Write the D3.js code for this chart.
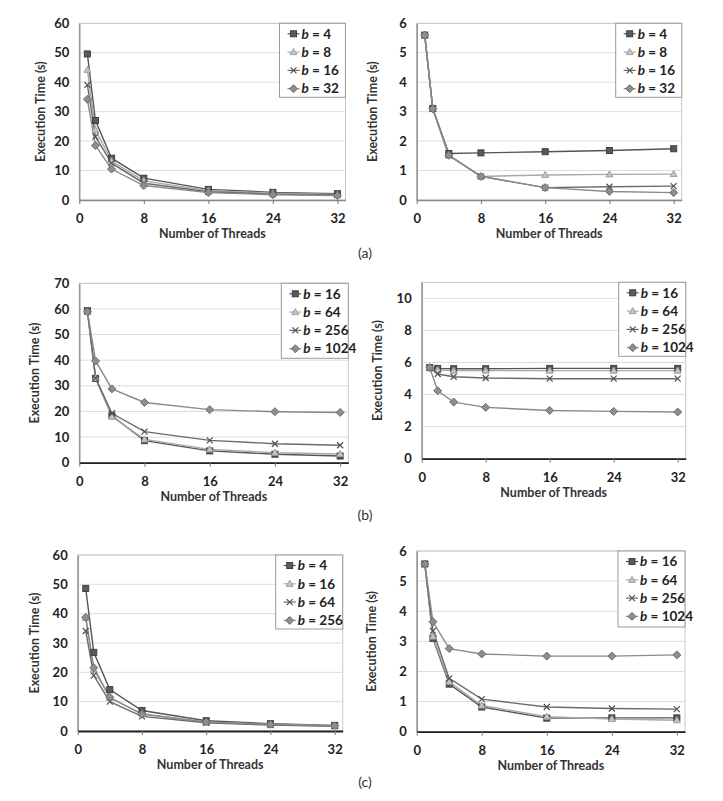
<!DOCTYPE html>
<html><head><meta charset="utf-8">
<script src="https://cdn.jsdelivr.net/npm/d3@7"></script>
<style>body{margin:0;background:#fff} text{font-family:Lato,"Liberation Sans",sans-serif}</style>
</head><body><svg id="chart" width="723" height="801"></svg>
<script>
// ---- data ----
const threads = [1, 2, 4, 8, 16, 24, 32];
const xTicks = [0, 8, 16, 24, 32];

// (a) left
const aLeftLabels = ["4", "8", "16", "32"];
const aLeftB4  = [49.6, 27.0, 14.2, 7.4, 3.6, 2.6, 2.15];
const aLeftB8  = [44.2, 23.8, 13.2, 6.5, 3.2, 2.3, 1.9];
const aLeftB16 = [39.1, 21.5, 12.5, 5.7, 2.8, 2.0, 1.7];
const aLeftB32 = [34.2, 18.5, 10.5, 4.9, 2.5, 1.8, 1.5];
const aLeftYTicks = [0, 10, 20, 30, 40, 50, 60];

// (a) right
const aRightLabels = ["4", "8", "16", "32"];
const aRightB4  = [5.6, 3.11, 1.58, 1.6, 1.64, 1.68, 1.74];
const aRightB8  = [5.6, 3.1, 1.52, 0.8, 0.85, 0.87, 0.88];
const aRightB16 = [5.6, 3.1, 1.52, 0.8, 0.42, 0.45, 0.47];
const aRightB32 = [5.6, 3.1, 1.52, 0.8, 0.42, 0.29, 0.25];
const aRightYTicks = [0, 1, 2, 3, 4, 5, 6];

// (b) left
const bLeftLabels = ["16", "64", "256", "1024"];
const bLeftB16   = [59.3, 32.9, 18.3, 8.6, 4.6, 3.3, 2.6];
const bLeftB64   = [59.0, 33.0, 18.0, 9.1, 5.2, 3.9, 3.4];
const bLeftB256  = [59.0, 33.0, 19.3, 12.1, 8.7, 7.4, 6.8];
const bLeftB1024 = [58.9, 39.7, 28.8, 23.5, 20.7, 19.9, 19.6];
const bLeftYTicks = [0, 10, 20, 30, 40, 50, 60, 70];

// (b) right
const bRightLabels = ["16", "64", "256", "1024"];
const bRightB16   = [5.68, 5.63, 5.61, 5.61, 5.63, 5.63, 5.63];
const bRightB64   = [5.68, 5.53, 5.49, 5.49, 5.49, 5.49, 5.49];
const bRightB256  = [5.68, 5.28, 5.11, 5.03, 4.99, 4.99, 4.99];
const bRightB1024 = [5.68, 4.24, 3.53, 3.2, 3.01, 2.95, 2.91];
const bRightYTicks = [0, 2, 4, 6, 8, 10];

// (c) left
const cLeftLabels = ["4", "16", "64", "256"];
const cLeftB4   = [48.6, 26.8, 14.1, 7.0, 3.5, 2.5, 1.9];
const cLeftB16  = [38.5, 21.0, 11.3, 5.9, 3.0, 2.2, 1.7];
const cLeftB64  = [34.1, 18.9, 10.0, 5.0, 2.8, 2.0, 1.6];
const cLeftB256 = [38.75, 21.6, 11.5, 5.7, 3.1, 2.3, 1.8];
const cLeftYTicks = [0, 10, 20, 30, 40, 50, 60];

// (c) right
const cRightLabels = ["16", "64", "256", "1024"];
const cRightB16   = [5.57, 3.1, 1.58, 0.82, 0.45, 0.46, 0.46];
const cRightB64   = [5.57, 3.16, 1.66, 0.87, 0.5, 0.42, 0.38];
const cRightB256  = [5.57, 3.35, 1.77, 1.08, 0.82, 0.77, 0.75];
const cRightB1024 = [5.57, 3.65, 2.76, 2.58, 2.51, 2.51, 2.55];
const cRightYTicks = [0, 1, 2, 3, 4, 5, 6];

const subLabels = ["(a)", "(b)", "(c)"];

// ---- styles ----
const markerTypes = ["square", "triangle", "cross", "diamond"];
const lineColors = ["#555555", "#a8a8a8", "#6a6a6a", "#8a8a8a"];
const fillColors = ["#5a5a5a", "#c4c4c4", "none", "#8e8e8e"];
const strokeColors = ["#3f3f3f", "#a0a0a0", "#505050", "#6e6e6e"];

const panels = [
  {l:79.3, r:345.5, t:23.3, b:200, yMax:60, yTicks:aLeftYTicks, labels:aLeftLabels, series:[aLeftB4,aLeftB8,aLeftB16,aLeftB32], ytx:41, axisCol:"#8a8a8a", lw:66, lh:74},
  {l:416.7, r:681.7, t:23.3, b:200, yMax:6, yTicks:aRightYTicks, labels:aRightLabels, series:[aRightB4,aRightB8,aRightB16,aRightB32], ytx:373, axisCol:"#8a8a8a", lw:66, lh:74},
  {l:79.3, r:348.3, t:283.3, b:462.7, yMax:70, yTicks:bLeftYTicks, labels:bLeftLabels, series:[bLeftB16,bLeftB64,bLeftB256,bLeftB1024], ytx:35, axisCol:"#222", lw:67, lh:75},
  {l:421.7, r:685.7, t:282.3, b:458.7, yMax:11, yTicks:bRightYTicks, labels:bRightLabels, series:[bRightB16,bRightB64,bRightB256,bRightB1024], ytx:378, axisCol:"#222", lw:67, lh:74},
  {l:77.7, r:342.7, t:555, b:731, yMax:60, yTicks:cLeftYTicks, labels:cLeftLabels, series:[cLeftB4,cLeftB16,cLeftB64,cLeftB256], ytx:35, axisCol:"#222", lw:67, lh:74},
  {l:416.7, r:685, t:551, b:731.7, yMax:6, yTicks:cRightYTicks, labels:cRightLabels, series:[cRightB16,cRightB64,cRightB256,cRightB1024], ytx:372, axisCol:"#222", lw:67, lh:76}
];

const svg = d3.select("#chart");

function drawMarker(g, type, i, cx, cy) {
  if (type === "square") {
    g.append("rect").attr("x", cx-3).attr("y", cy-3).attr("width", 6).attr("height", 6)
      .attr("fill", fillColors[i]).attr("stroke", strokeColors[i]).attr("stroke-width", 1);
  } else if (type === "triangle") {
    g.append("path").attr("d", `M${cx},${cy-3.5}L${cx+3.5},${cy+2.5}L${cx-3.5},${cy+2.5}Z`)
      .attr("fill", fillColors[i]).attr("stroke", strokeColors[i]).attr("stroke-width", 1);
  } else if (type === "cross") {
    g.append("path").attr("d", `M${cx-3},${cy-3}L${cx+3},${cy+3}M${cx-3},${cy+3}L${cx+3},${cy-3}`)
      .attr("fill", "none").attr("stroke", strokeColors[i]).attr("stroke-width", 1.2);
  } else {
    g.append("path").attr("d", `M${cx},${cy-4}L${cx+4},${cy}L${cx},${cy+4}L${cx-4},${cy}Z`)
      .attr("fill", fillColors[i]).attr("stroke", strokeColors[i]).attr("stroke-width", 1);
  }
}

panels.forEach(p => {
  const x = d3.scaleLinear().domain([0, 33]).range([p.l, p.r]);
  const y = d3.scaleLinear().domain([0, p.yMax]).range([p.b, p.t]);
  const g = svg.append("g");

  // gridlines
  g.selectAll(".grid").data(p.yTicks.filter(v => v > 0)).enter().append("line")
    .attr("x1", p.l).attr("x2", p.r).attr("y1", d => y(d)).attr("y2", d => y(d))
    .attr("stroke", "#dcdcdc").attr("stroke-width", 1);
  // frame
  g.append("rect").attr("x", p.l).attr("y", p.t).attr("width", p.r - p.l).attr("height", p.b - p.t)
    .attr("fill", "none").attr("stroke", "#c8c8c8").attr("stroke-width", 1);

  // y axis
  const ya = g.append("g").attr("transform", `translate(${p.l},0)`)
    .call(d3.axisLeft(y).tickValues(p.yTicks).tickSize(0).tickPadding(10).tickFormat(d3.format("d")));
  ya.select(".domain").attr("stroke", "#8a8a8a").attr("stroke-width", 1.3);
  ya.selectAll("text").attr("font-size", 13).attr("font-weight", "bold").attr("fill", "#222");

  // x axis
  const xa = g.append("g").attr("transform", `translate(0,${p.b})`)
    .call(d3.axisBottom(x).tickValues(xTicks).tickSize(4).tickPadding(10).tickSizeOuter(0));
  xa.select(".domain").attr("stroke", p.axisCol).attr("stroke-width", p.axisCol === "#222" ? 1.8 : 1.3);
  xa.selectAll(".tick line").attr("stroke", "#777");
  xa.selectAll("text").attr("font-size", 13).attr("font-weight", "bold").attr("fill", "#222");

  // titles
  g.append("text").attr("x", (p.l + p.r) / 2).attr("y", p.b + 38).attr("text-anchor", "middle")
    .attr("font-size", 12.5).attr("font-weight", "bold").attr("fill", "#333").text("Number of Threads");
  g.append("text").attr("transform", `translate(${p.ytx},${(p.t + p.b) / 2}) rotate(-90)`)
    .attr("text-anchor", "middle").attr("dy", "0.35em")
    .attr("font-size", 12.5).attr("font-weight", "bold").attr("fill", "#333").text("Execution Time (s)");

  // series
  const line = d3.line().x((d, k) => x(threads[k])).y(d => y(d));
  p.series.forEach((s, i) => {
    g.append("path").datum(s).attr("d", line).attr("fill", "none")
      .attr("stroke", lineColors[i]).attr("stroke-width", 1.4);
  });
  p.series.forEach((s, i) => {
    const mg = g.append("g");
    s.forEach((v, k) => drawMarker(mg, markerTypes[i], i, x(threads[k]), y(v)));
  });

  // legend
  const lx = p.r - p.lw, ly = p.t;
  const lg = g.append("g");
  lg.append("rect").attr("x", lx).attr("y", ly).attr("width", p.lw).attr("height", p.lh)
    .attr("fill", "#fff").attr("stroke", "#9a9a9a").attr("stroke-width", 1);
  p.labels.forEach((lab, i) => {
    const cy = ly + 10.5 + i * 18.3;
    const mx = lx + 14;
    lg.append("line").attr("x1", mx - 6).attr("x2", mx + 6).attr("y1", cy).attr("y2", cy)
      .attr("stroke", lineColors[i]).attr("stroke-width", 1.2);
    drawMarker(lg, markerTypes[i], i, mx, cy);
    const t = lg.append("text").attr("x", lx + 22).attr("y", cy).attr("dy", "0.35em")
      .attr("font-size", 13.5).attr("font-weight", "bold").attr("fill", "#222");
    t.append("tspan").attr("font-style", "italic").text("b");
    t.append("tspan").text(" = " + lab);
  });
});

// sub labels
const subY = [258, 520, 787];
subLabels.forEach((s, i) => {
  svg.append("text").attr("x", 365).attr("y", subY[i]).attr("text-anchor", "middle")
    .attr("font-family", "Liberation Sans, Arial, sans-serif").attr("font-size", 14).attr("fill", "#333").text(s);
});
</script></body></html>
